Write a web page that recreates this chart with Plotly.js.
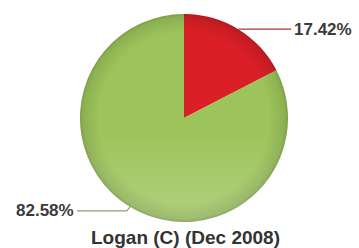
<!DOCTYPE html>
<html>
<head>
<meta charset="utf-8">
<script src="https://cdn.plot.ly/plotly-3.0.1.min.js"></script>
<style>html,body{margin:0;padding:0;background:#fff;}#chart{width:359px;height:248px;}</style>
</head>
<body>
<div id="chart"></div>
<script>
var categories = ["Red segment", "Green segment"];
var values = [17.42, 82.58];
var valueLabels = ["17.42%", "82.58%"];
var colors = ["#da1f27", "#9cc45a"];
var lineColors = ["#b3343a", "#8f9f78"];
var chartTitle = "Logan (C) (Dec 2008)";

var W = 359, H = 248;
var cx = 184, cy = 118, R = 104;
var dom = {x: [(cx - R) / W, (cx + R) / W], y: [(H - cy - R) / H, (H - cy + R) / H]};

var total = values.reduce(function(a, b) { return a + b; }, 0);
var shapes = [], annotations = [];
var cum = 0;
function px(x) { return x / W; }
function py(y) { return (H - y) / H; }
values.forEach(function(v, i) {
  var mid = (cum + v / 2) / total * 2 * Math.PI;
  cum += v;
  var ex = cx + R * Math.sin(mid), ey = cy - R * Math.cos(mid);
  var right = Math.sin(mid) >= 0;
  var dir = right ? 1 : -1;
  var kx = ex + dir * 3, ky = ey + (Math.cos(mid) < 0 ? 4 : 0);
  var endx = kx + dir * 50;
  shapes.push({type: "path", xref: "paper", yref: "paper",
    path: "M" + px(ex) + "," + py(ey) + " L" + px(kx) + "," + py(ky) + " L" + px(endx) + "," + py(ky),
    line: {color: lineColors[i], width: 1.2}});
  annotations.push({xref: "paper", yref: "paper", x: px(endx + dir * 1), y: py(ky),
    xanchor: right ? "left" : "right", yanchor: "middle", showarrow: false,
    text: "<b>" + valueLabels[i] + "</b>",
    font: {family: "Liberation Sans, Arial, sans-serif", size: 17, color: "#3a3a3a"}});
});
annotations.push({xref: "paper", yref: "paper", x: px(185), y: py(237), xanchor: "center", yanchor: "middle",
  showarrow: false, text: "<b>" + chartTitle + "</b>",
  font: {family: "Liberation Sans, Arial, sans-serif", size: 19, color: "#333333"}});

// subtle glossy shading overlay (decoration only)
var svg = '<svg xmlns="http://www.w3.org/2000/svg" width="200" height="200" viewBox="0 0 200 200">' +
  '<defs>' +
  '<radialGradient id="rim" cx="50%" cy="50%" r="50%">' +
  '<stop offset="0%" stop-color="#000" stop-opacity="0"/>' +
  '<stop offset="82%" stop-color="#000" stop-opacity="0"/>' +
  '<stop offset="97%" stop-color="#000" stop-opacity="0.10"/>' +
  '<stop offset="100%" stop-color="#000" stop-opacity="0.20"/>' +
  '</radialGradient>' +
  '<linearGradient id="lit" x1="0" y1="0" x2="0" y2="1">' +
  '<stop offset="0%" stop-color="#fff" stop-opacity="0"/>' +
  '<stop offset="55%" stop-color="#fff" stop-opacity="0"/>' +
  '<stop offset="100%" stop-color="#fff" stop-opacity="0.22"/>' +
  '</linearGradient>' +
  '</defs>' +
  '<circle cx="100" cy="100" r="100" fill="url(#lit)"/>' +
  '<circle cx="100" cy="100" r="100" fill="url(#rim)"/>' +
  '</svg>';
var images = [{source: "data:image/svg+xml;base64," + btoa(svg), xref: "paper", yref: "paper",
  x: dom.x[0], y: dom.y[1], sizex: dom.x[1] - dom.x[0], sizey: dom.y[1] - dom.y[0],
  sizing: "stretch", xanchor: "left", yanchor: "top", layer: "above"}];

var data = [{
  type: "pie", labels: categories, values: values, sort: false, direction: "clockwise", rotation: 0,
  marker: {colors: colors, line: {color: "#ffffff", width: 0}},
  textinfo: "none", hoverinfo: "none", domain: dom
}];
var layout = {width: W, height: H, margin: {l: 0, r: 0, t: 0, b: 0}, showlegend: false,
  paper_bgcolor: "#ffffff", shapes: shapes, annotations: annotations, images: images};
Plotly.newPlot("chart", data, layout, {staticPlot: true, displayModeBar: false});
</script>
</body>
</html>
